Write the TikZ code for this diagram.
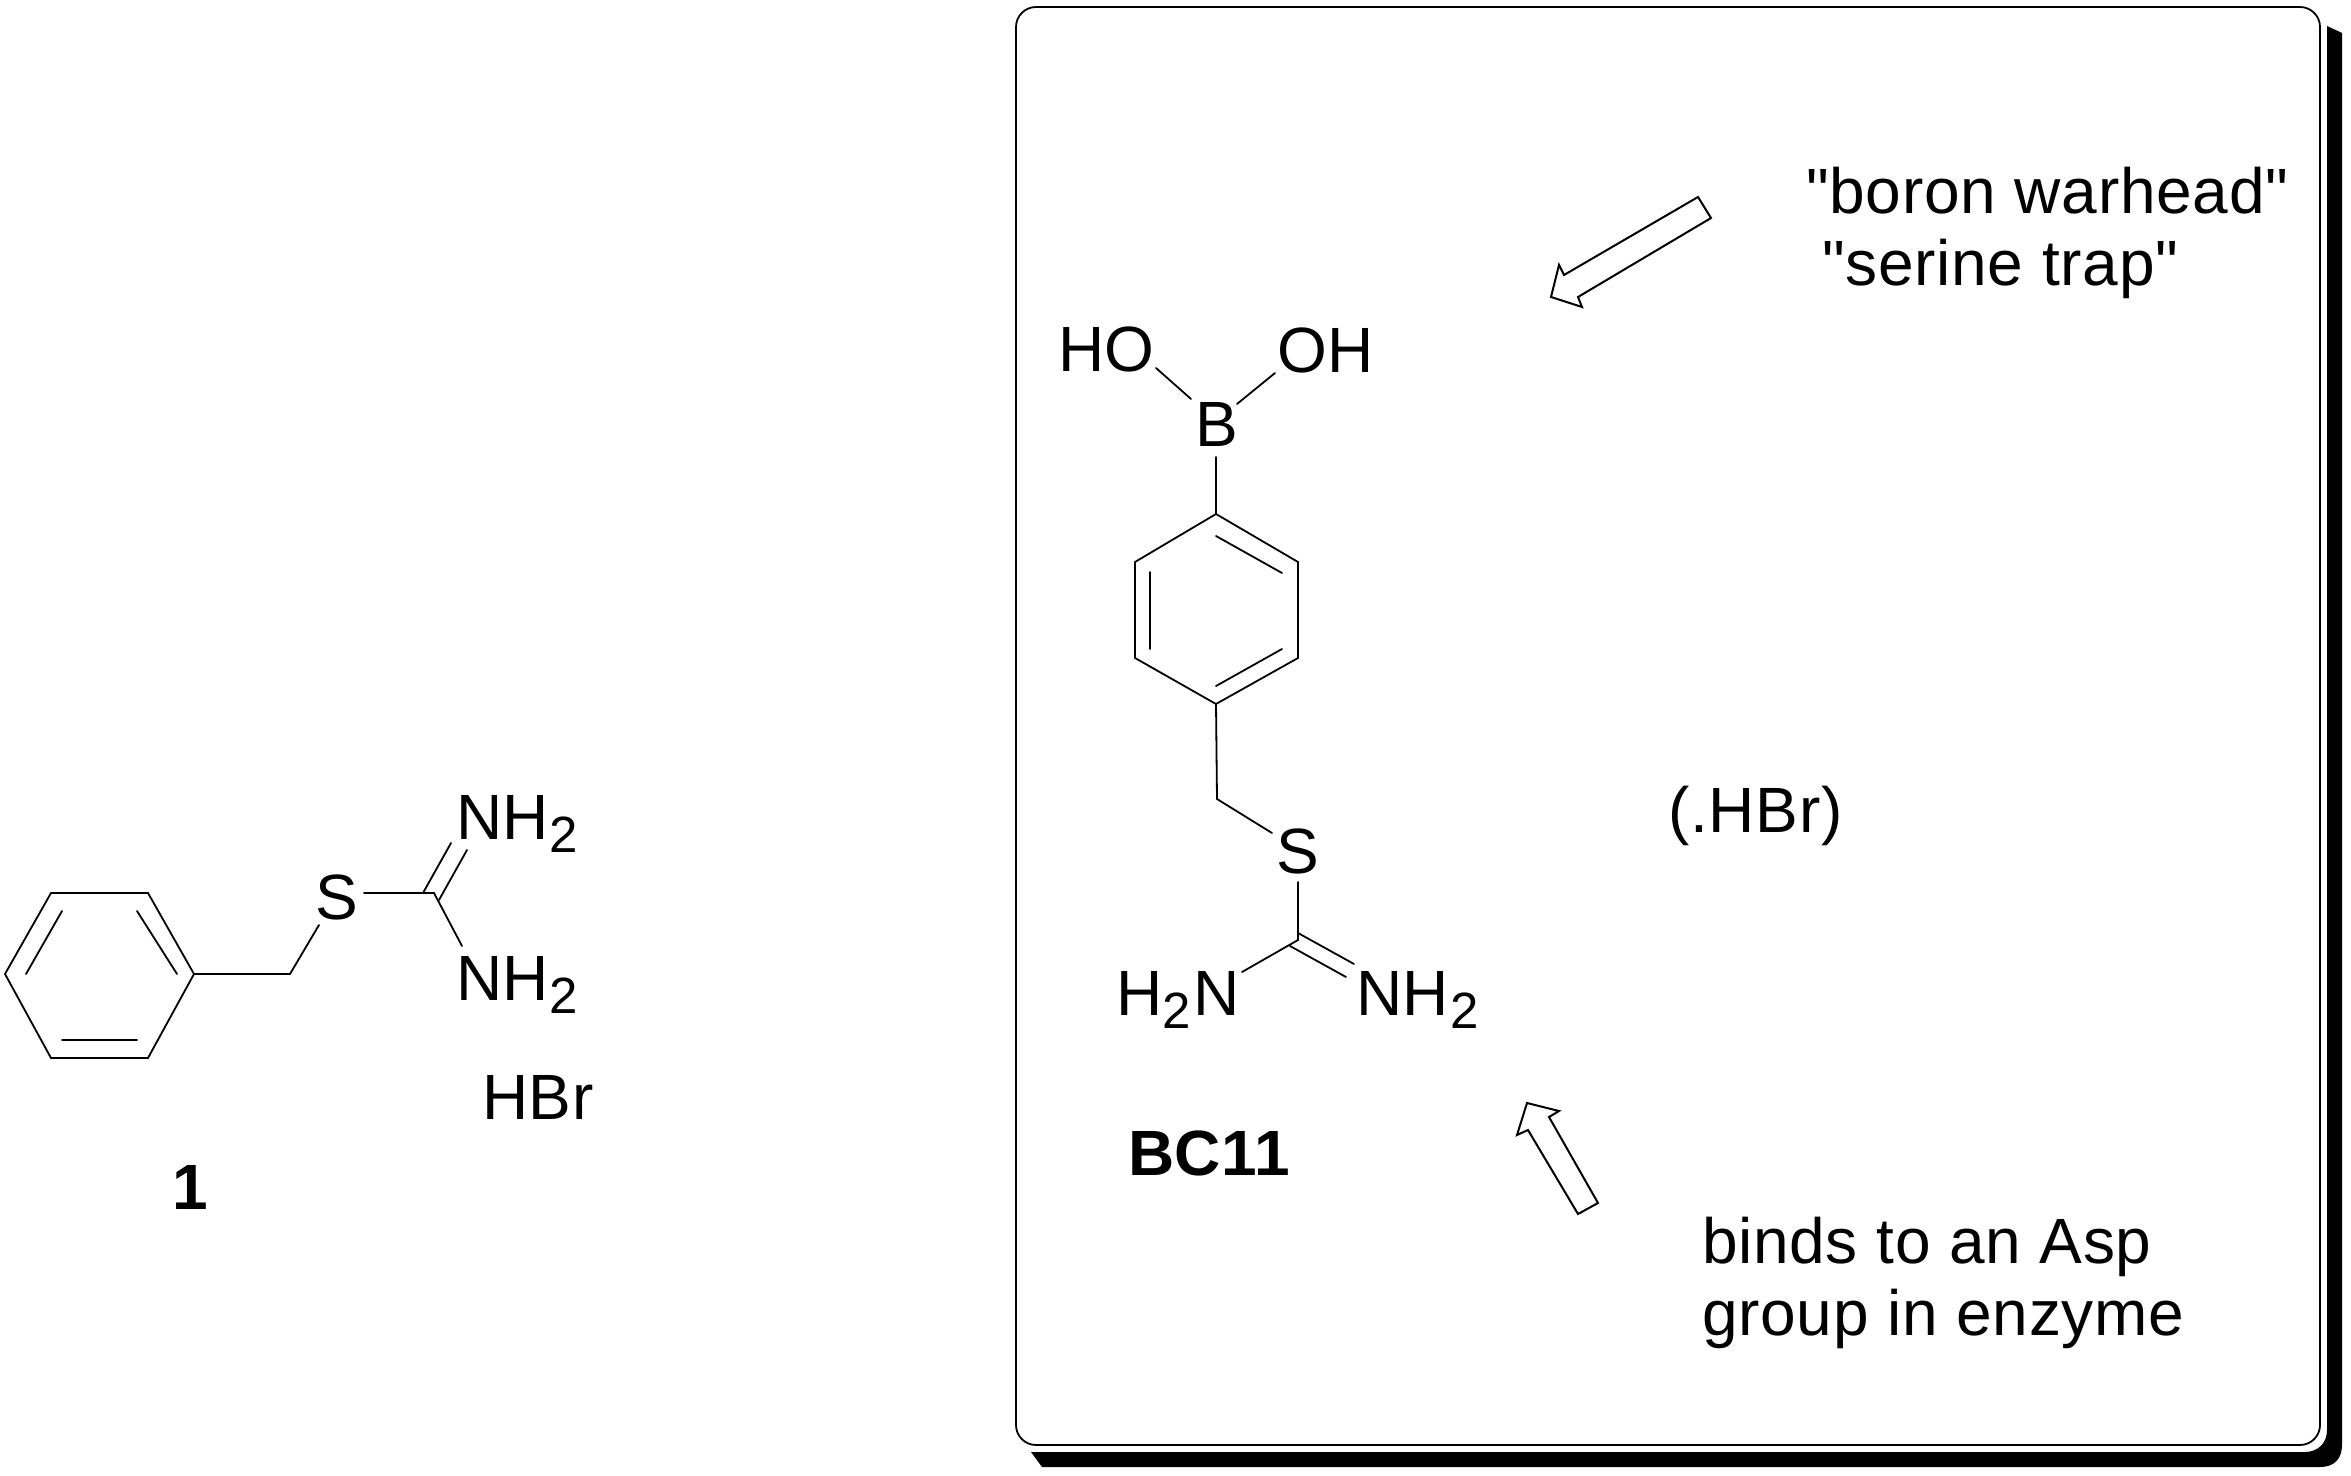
\documentclass[tikz,border=0pt]{standalone}
\usepackage{fontspec}
\newfontfamily\drawfam{Liberation Sans}[LetterSpace=1.2]
\newcommand{\atomfont}{\drawfam\fontsize{32}{36}\selectfont}
\newcommand{\subfont}{\fontsize{25.5}{28}\selectfont}
\newcommand{\subtwo}{\raisebox{-6.5pt}{\subfont 2}}
\tikzset{
  atom/.style={inner sep=0pt,outer sep=0pt,anchor=base west,font=\atomfont,text=black},
  boldlabel/.style={atom,font=\atomfont\bfseries},
  note/.style={atom},
  bond/.style={draw=black,line width=0.9pt,line cap=round,line join=miter},
  hollowarrow/.style={draw=black,fill=white,line width=1pt,line join=miter},
  panel/.style={draw=black,line width=0.9pt,rounded corners=10pt},
  panelshadow/.style={fill=black,draw=none}
}
\begin{document}
\begin{tikzpicture}[x=0.5pt,y=-0.5pt]
\useasboundingbox (0,0) rectangle (2351,1476);
% panel
\fill[panelshadow] (2327,26) -- (2342,33) -- (2342,1445) .. controls (2342,1459) and (2334,1467) .. (2320,1467) -- (1042,1467) -- (1031,1452) -- (2305,1452) .. controls (2318,1452) and (2327,1443) .. (2327,1430) -- cycle;
\draw[panel] (1016,7) rectangle (2320,1445);
% compound 1
\foreach \n/\p in {a1/{5,974},a2/{51,893},a3/{148,893},a4/{194,974},a5/{148,1058},a6/{51,1058},
  i1/{62,911},i2/{26,974},i3/{137,911},i4/{177,974},i5/{62,1040},i6/{137,1040},
  ch/{290,974},sw/{319,925},se/{364,893},c/{434,893},nl/{462,946},
  d1/{423,893},d2/{451,843},d3/{439,900},d4/{467,850}}
  {\coordinate (\n) at (\p);}
\draw[bond] (a1) -- (a2) -- (a3) -- (a4) -- (a5) -- (a6) -- cycle;
\draw[bond] (i1) -- (i2);
\draw[bond] (i3) -- (i4);
\draw[bond] (i5) -- (i6);
\draw[bond] (a4) -- (ch) -- (sw);
\draw[bond] (se) -- (c) -- (nl);
\draw[bond] (d1) -- (d2);
\draw[bond] (d3) -- (d4);
\node[atom] (S1) at (315,919) {S};
\node[atom] (N1a) at (456,839) {NH\subtwo};
\node[atom] (N1b) at (456,1000) {NH\subtwo};
\node[atom] (HBr1) at (482,1119) {HBr};
\node[boldlabel] (lab1) at (172,1209) {1};
% BC11
\foreach \n/\p in {r1/{1216,514},r2/{1298,562},r3/{1298,658},r4/{1216,704},r5/{1135,658},r6/{1135,562},
  q1/{1216,536},q2/{1282,573},q3/{1150,572},q4/{1150,649},q5/{1282,649},q6/{1216,686},
  hoe/{1156,368},bnw/{1191,399},ohw/{1275,373},bne/{1237,404},bs/{1216,457},
  mt/{1217,799},sa/{1272,833},sb/{1298,882},cc/{1298,940},nw/{1242,972},
  e1/{1298,933},e2/{1354,964},e3/{1290,946},e4/{1346,977}}
  {\coordinate (\n) at (\p);}
\draw[bond] (r1) -- (r2) -- (r3) -- (r4) -- (r5) -- (r6) -- cycle;
\draw[bond] (q1) -- (q2);
\draw[bond] (q3) -- (q4);
\draw[bond] (q5) -- (q6);
\draw[bond] (hoe) -- (bnw);
\draw[bond] (ohw) -- (bne);
\draw[bond] (bs) -- (r1);
\draw[bond] (r4) -- (mt) -- (sa);
\draw[bond] (sb) -- (cc) -- (nw);
\draw[bond] (e1) -- (e2);
\draw[bond] (e3) -- (e4);
\node[atom] (HO) at (1058,372) {HO};
\node[atom] (OH) at (1277,373) {OH};
\node[atom] (B) at (1195,447) {B};
\node[atom] (S2) at (1276,873) {S};
\node[atom] (H2N) at (1116,1015) {H\subtwo\kern1.5pt N};
\node[atom] (NH2) at (1356,1015) {NH\kern0.5pt\subtwo};
\node[boldlabel] (BC) at (1128,1175) {BC11};
% notes
\node[note] (n1) at (1806,214) {"boron warhead"};
\node[note] (n2) at (1822,286) {"serine trap"};
\node[note] (n3) at (1668,832) {(.HBr)};
\node[note] (n4) at (1702,1263) {binds to an Asp};
\node[note] (n5) at (1702,1335) {group in enzyme};
% hollow arrows
\draw[hollowarrow] (1698,197) -- (1711,218) -- (1578,297) -- (1582,307) -- (1551,297) -- (1559,265) -- (1564,275) -- cycle;
\draw[hollowarrow] (1527,1103) -- (1559,1111) -- (1549,1117) -- (1598,1203) -- (1578,1214) -- (1528,1130) -- (1517,1135) -- cycle;
\end{tikzpicture}
\end{document}
